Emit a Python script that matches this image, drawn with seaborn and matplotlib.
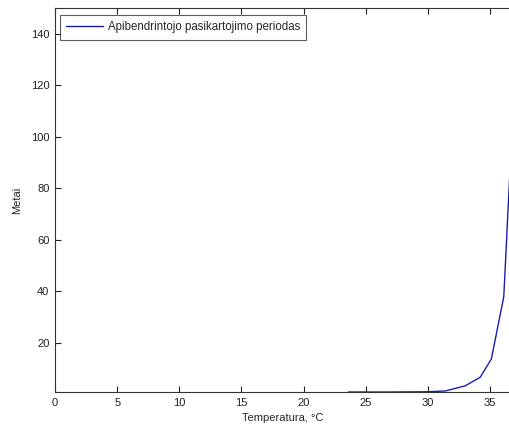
import matplotlib
matplotlib.use("Agg")
import matplotlib.pyplot as plt
import seaborn as sns
import pandas as pd

temperature = [23.6, 27.0, 30.0, 31.4, 33.0, 34.2, 35.1, 36.1, 36.7]
years = [1.0, 1.0, 1.1, 1.4, 3.4, 6.7, 13.8, 38.0, 97.0]
series_name = "Apibendrintojo pasikartojimo periodas"
xticks = [0, 5, 10, 15, 20, 25, 30, 35]
yticks = [20, 40, 60, 80, 100, 120, 140]

sns.set_theme(style="white")
plt.rcParams['font.family'] = ['Liberation Sans', 'DejaVu Sans']

df = pd.DataFrame({"Temperatura": temperature, "Metai": years, "s": series_name})

fig = plt.figure(figsize=(5.10, 4.25), dpi=100)
ax = fig.add_axes([55/510, 33/425, 1 - 55/510, 384/425])
sns.lineplot(data=df, x="Temperatura", y="Metai", hue="s", palette=["#1c1cb0"],
             linewidth=1.0, ax=ax, legend=True)

ax.set_xlim(0, 36.6)
ax.set_ylim(1, 150)
ax.set_xticks(xticks)
ax.set_yticks(yticks)
ax.tick_params(direction="in", length=4, width=0.8, labelsize=8, colors="#222222",
               top=True, bottom=True, left=True, right=False, pad=4)
for s in ["left", "bottom", "top"]:
    ax.spines[s].set_color("#333333")
    ax.spines[s].set_linewidth(0.8)
ax.spines["right"].set_visible(False)

ax.set_xlabel("Temperatura, °C", fontsize=8, labelpad=4)
ax.set_ylabel("Metai", fontsize=8, labelpad=6)

leg = ax.legend(loc="upper left", bbox_to_anchor=(0.011, 0.982), fontsize=8.3,
                frameon=True, fancybox=False, borderaxespad=0, handlelength=3.2,
                borderpad=0.55, handletextpad=0.4)
leg.get_frame().set_edgecolor("#333333")
leg.get_frame().set_linewidth(0.8)

fig.savefig("out.png", dpi=100)
